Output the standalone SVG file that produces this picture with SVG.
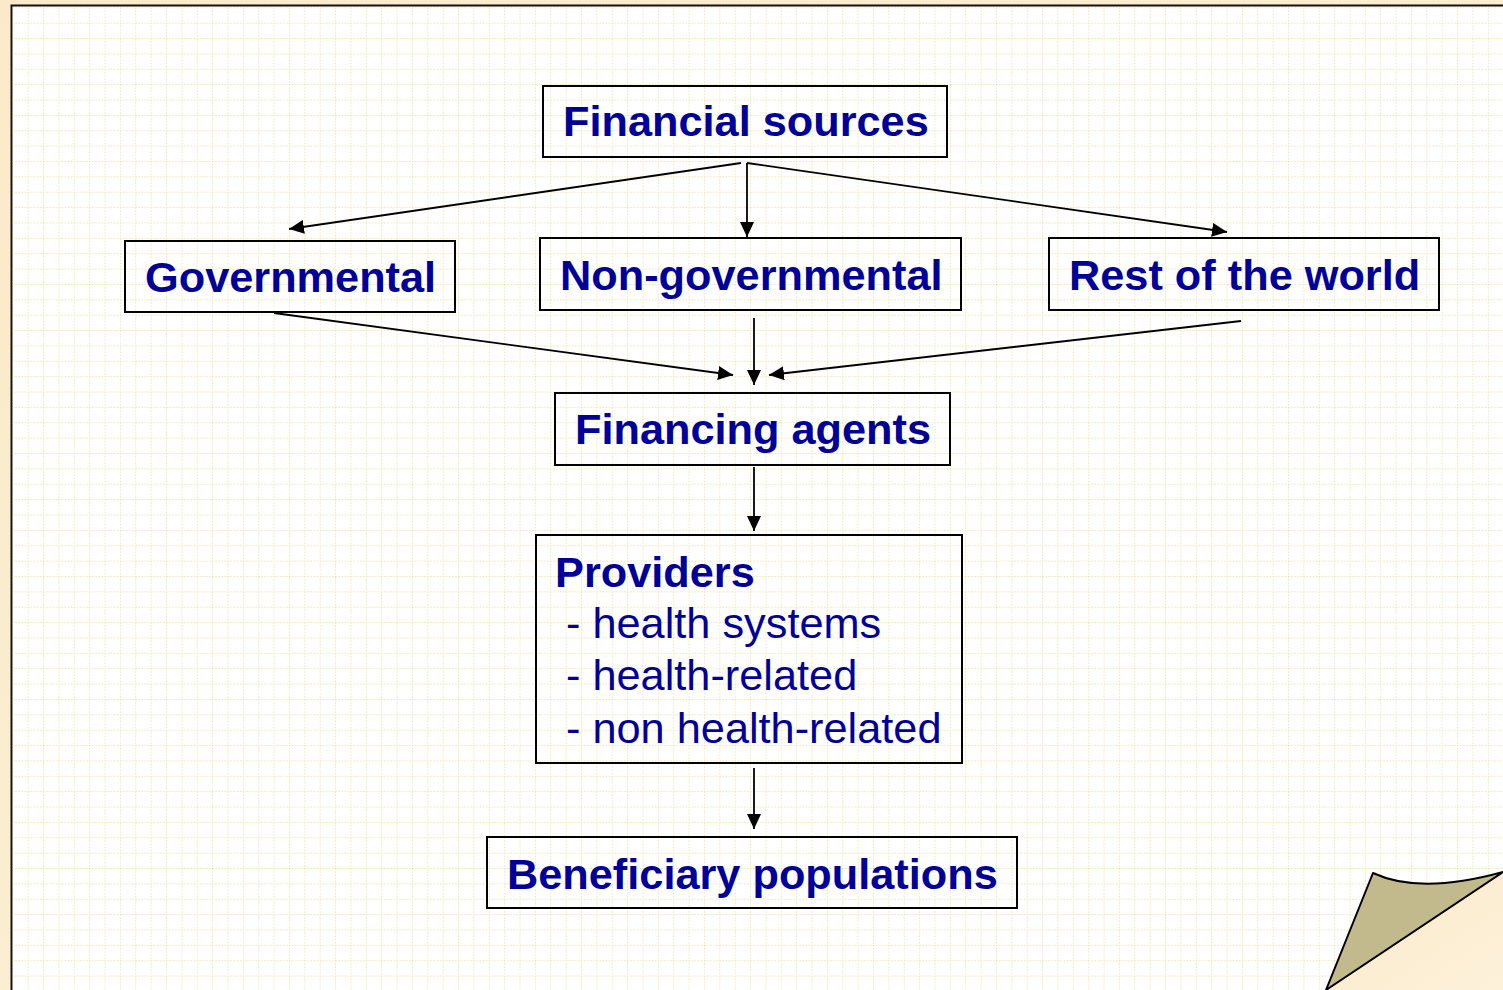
<svg xmlns="http://www.w3.org/2000/svg" width="1503" height="990" viewBox="0 0 1503 990">
<style>
.box{fill:none;stroke:#000;stroke-width:2}
.t{font-family:"Liberation Sans",Arial,sans-serif;font-size:43.3px;fill:#000099}
.b{font-weight:bold}
.c{stroke:#000;stroke-width:1.8;fill:none}
.g{stroke:#EBDB95;stroke-width:1.4;stroke-dasharray:1.6 1.5}
</style>
<defs>
<linearGradient id="bg" x1="0" y1="0" x2="1" y2="1">
<stop offset="0" stop-color="#FBEACA"/>
<stop offset="1" stop-color="#FDF1DA"/>
</linearGradient>
<pattern id="grid" patternUnits="userSpaceOnUse" x="12.3" y="7.3" width="15.37" height="15.37">
<line class="g" x1="0" y1="0" x2="15.37" y2="0"/>
<line class="g" x1="0" y1="0" x2="0" y2="15.37"/>
</pattern>
<marker id="ah" markerUnits="userSpaceOnUse" markerWidth="15" markerHeight="14" refX="15" refY="7" orient="auto">
<path d="M0,0 L15,7 L0,14 z" fill="#000"/>
</marker>
</defs>
<rect x="0" y="0" width="1503" height="990" fill="url(#bg)"/>
<g id="page">
<rect x="11.5" y="5.5" width="1500" height="1000" fill="#FFFFFF" stroke="#111" stroke-width="2"/>
<rect x="12.5" y="6.5" width="1500" height="1000" fill="url(#grid)"/>
<polygon points="1503,872 1503,990 1326,990" fill="url(#bg)"/>
<path d="M1373,873 Q1420,895 1503,872 L1326,990 Z" fill="#C2BA8C" stroke="#000" stroke-width="2" stroke-linejoin="round"/>
</g>
<g id="connectors">
<line class="c" x1="741" y1="163" x2="289" y2="229" marker-end="url(#ah)"/>
<line class="c" x1="747" y1="163" x2="747" y2="237" marker-end="url(#ah)"/>
<line class="c" x1="747" y1="163" x2="1227" y2="232" marker-end="url(#ah)"/>
<line class="c" x1="274" y1="313" x2="733" y2="375" marker-end="url(#ah)"/>
<line class="c" x1="754" y1="318" x2="754" y2="385" marker-end="url(#ah)"/>
<line class="c" x1="1241" y1="321" x2="769" y2="375" marker-end="url(#ah)"/>
<line class="c" x1="754" y1="467" x2="754" y2="531" marker-end="url(#ah)"/>
<line class="c" x1="754" y1="768" x2="754" y2="829" marker-end="url(#ah)"/>
</g>
<g id="financial-sources">
<rect class="box" x="543" y="86" width="404" height="71"/>
<text class="t b" x="563" y="136">Financial sources</text>
</g>
<g id="governmental">
<rect class="box" x="125" y="241" width="330" height="71"/>
<text class="t b" x="145" y="292">Governmental</text>
</g>
<g id="non-governmental">
<rect class="box" x="540" y="238" width="421" height="72"/>
<text class="t b" x="560" y="290">Non-governmental</text>
</g>
<g id="rest-of-the-world">
<rect class="box" x="1049" y="238" width="390" height="72"/>
<text class="t b" x="1069" y="290">Rest of the world</text>
</g>
<g id="financing-agents">
<rect class="box" x="555" y="393" width="395" height="72"/>
<text class="t b" x="575" y="444">Financing agents</text>
</g>
<g id="providers">
<rect class="box" x="536" y="535" width="426" height="228"/>
<text class="t b" x="555" y="587">Providers</text>
<text class="t" x="566" y="638">- health systems</text>
<text class="t" x="566" y="690">- health-related</text>
<text class="t" x="566" y="743">- non health-related</text>
</g>
<g id="beneficiary-populations">
<rect class="box" x="487" y="837" width="530" height="71"/>
<text class="t b" x="507" y="889">Beneficiary populations</text>
</g>
</svg>
